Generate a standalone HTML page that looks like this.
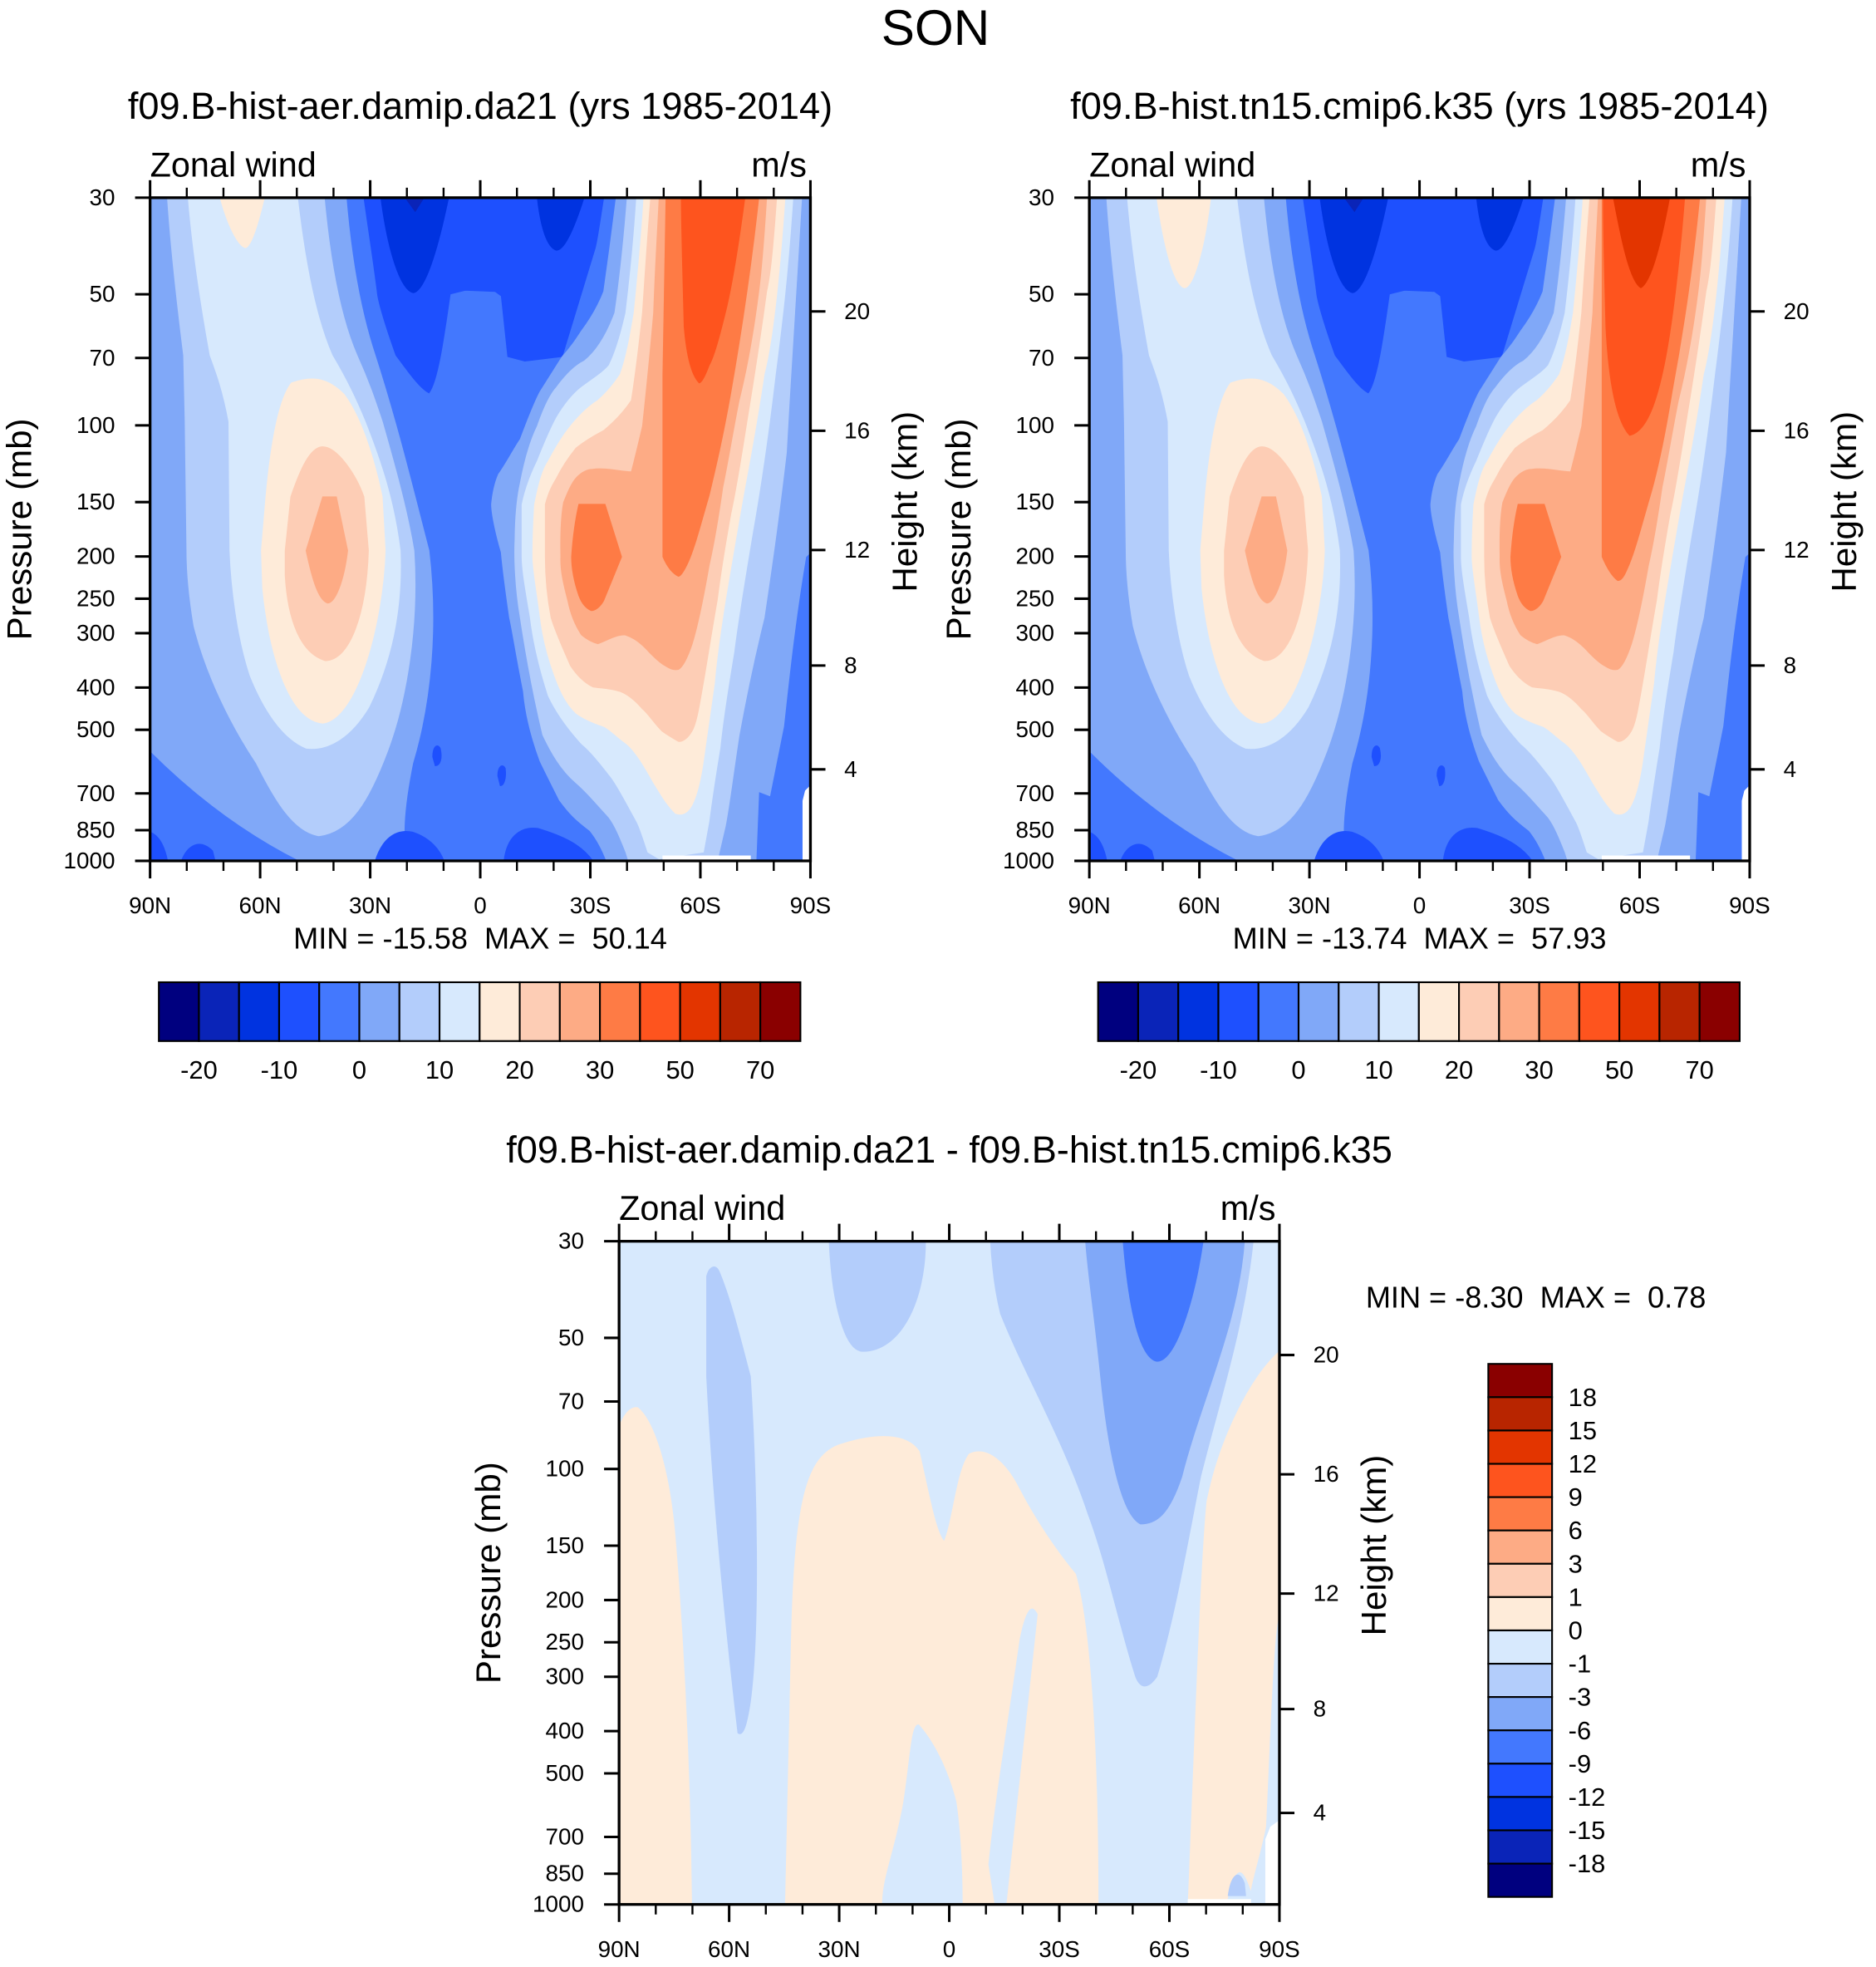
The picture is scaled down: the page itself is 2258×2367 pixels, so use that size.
<!DOCTYPE html>
<html><head><meta charset="utf-8">
<style>
html,body{margin:0;padding:0;background:#fff;}
svg{display:block;}
text{font-family:"Liberation Sans",Arial,sans-serif;fill:#000;}
</style></head>
<body>
<svg id="fig" xmlns="http://www.w3.org/2000/svg" width="2258" height="2367" viewBox="0 0 1500 1572" preserveAspectRatio="none">
<text x="748" y="36" font-size="40" text-anchor="middle">SON</text>
</svg>
<script>
// ---------- data ----------
const pressureTicks = [30,50,70,100,150,200,250,300,400,500,700,850,1000];
const heightTicks = [4,8,12,16,20];
const latMajor = [90,60,30,0,-30,-60,-90];
const latLabels = ["90N","60N","30N","0","30S","60S","90S"];
const latMinor = [80,70,50,40,20,10,-10,-20,-40,-50,-70,-80];
const absLabels = ["-20","-10","0","10","20","30","50","70"];
const absLabelIdx = [1,3,5,7,9,11,13,15];
const absColors = ["#00007f","#0a24b8","#0033e0","#1e50fe","#4378fe","#80a8f8","#b3cdfb","#d7e9fd","#feebd9","#fdcdb5","#fdab85","#fe7b45","#fe541e","#e33500","#b82500","#8a0000"];
const diffLabels = ["18","15","12","9","6","3","1","0","-1","-3","-6","-9","-12","-15","-18"];
const minMax1 = ["-15.58","50.14"];
const minMax2 = ["-13.74","57.93"];
const minMax3 = ["-8.30","0.78"];

const svg = document.getElementById('fig');
const NS = "http://www.w3.org/2000/svg";
function mk(tag, attrs, parent){const e=document.createElementNS(NS,tag);for(const k in attrs)e.setAttribute(k,attrs[k]);(parent||svg).appendChild(e);return e;}

const W=528,H=530;
function yP(p,top){return top+Math.log(p/30)/Math.log(1000/30)*H;}
function xL(lat,left){return left+(90-lat)/180*W;}
function pOfZ(z){z*=1000;return z<11000?1013.25*Math.pow(1-2.2558e-5*z,5.256):226.3*Math.exp(-(z-11000)/6341.6);}

const absLayers = [
 ["#4378fe","M120,158 L648,158 L648,688 L120,688 Z"],
 ["#80a8f8","M120,158 L276.8,158 C282,220 292,260 300,284 C318,340 330,390 343,440 C350,500 345,560 330,610 C322,650 322,670 325,688 L240,688 C200,668 160,640 120,600 Z"],
 ["#b3cdfb","M133.9,158 L259.3,158 C265,220 275,260 285.5,284 C295,305 300,320 305.7,337 C318,380 326,410 331,440 C335,500 325,560 310,600 C295,640 280,665 255,668 C235,665 220,640 205,610 C185,580 165,540 155,500 C150,470 149.4,450 149.4,440 L148,337 L146.8,284 C140,230 136,190 133.9,158 Z"],
 ["#d7e9fd","M150.5,158 L237.9,158 C245,220 255,260 265.6,284 C278,305 285,320 292,337 C305,370 315,400 320,440 C322,490 312,530 295,565 C280,590 262,600 245,598 C225,590 210,565 200,540 C190,510 185,470 183.8,440 L183,337 C178,310 172,295 168,284 C160,240 154,200 150.5,158 Z"],
 ["#feebd9","M233,306 C250,300 262,302 275,315 C290,335 300,370 305.6,397 L308,440 C306,500 285,575 258,578 C230,575 215,520 210,470 L209,440 L212.6,397 C216,360 222,320 233,306 Z"],
 ["#feebd9","TOPBLOB"],
 ["#fdcdb5","M258,357 C270,357 285,380 291,397 L294.6,440 C293,490 280,528 260,528 C240,522 230,495 228,460 L228,440 L232.5,397 C240,375 248,357 258,357 Z"],
 ["#fdab85","M258,397 L269,397 L278,440 C275,465 268,482 262,482 C255,480 250,465 244.7,440 Z"],
 ["#1e50fe","M291,158 L482.7,158 C480,175 478,190 476,198 L449.5,285 L419.6,288.6 L406,285 L400.8,236.5 L396,233 L372,232 L360,235 C355,270 350,305 343,314 C335,310 325,295 316.6,284 C308,260 302,240 301.6,233 C298,205 294,180 291,158 Z"],
 ["#0033e0","M304.5,158 L358.7,158 C350,200 340,232 330.6,234 C320,232 310,200 304.5,158 Z"],
 ["#0a24b8","M324,158 L339,158 L332,169 Z"],
 ["#0033e0","M429.6,158 L467,158 C460,180 452,200 445,200 C437,198 432,180 429.6,158 Z"],
 ["#1e50fe","M403,688 C405,670 415,660 430,662 C450,668 465,675 474,688 Z"],
 ["#1e50fe","M300,688 C305,672 315,662 330,665 C345,670 352,680 355,688 Z"],
 ["#1e50fe","M346,605 C346,596 350,594 352,598 C354,606 352,612 348,612 Z"],
 ["#1e50fe","M398,620 C398,612 402,610 404,614 C405,622 403,628 400,628 Z"],
 ["#1e50fe","M120,688 L120,665 C128,668 132,678 134,688 Z M145,688 C150,675 160,670 170,680 L172,688 Z"],
 ["#80a8f8","M492.7,158 L648,158 L648,441.5 L644.3,445 C635,500 630,550 626.6,580.5 L615.5,636 L606.7,632.6 L604.5,688 L485,688 C480,675 475,668 471.6,663.8 C460,655 455,650 447.3,639.5 C440,625 435,615 431.8,608.3 C425,590 420,570 418.5,552.6 C412,520 410,505 407.4,493.6 C404,470 402,455 400.8,441.5 C396,425 393,410 393,403 C394,392 396,385 398.6,379 C405,370 410,360 416,351 C422,335 428,320 431.8,313 C440,300 445,292 449.5,285 C456,278 460,272 465,264.3 C472,255 478,245 482.7,233 C486,210 490,180 492.7,158 Z"],
 ["#b3cdfb","M501.5,158 L641,158 C636,250 632,300 628.8,361.6 C622,420 616,460 611,493.6 C602,530 596,560 591,587.4 C586,620 583,645 580,660 L573.5,688 L502.6,688 L500.4,681 C496,670 492,660 487,653.4 C475,640 468,632 460.6,625.6 C448,615 440,600 434,587.4 C425,550 420,520 416,493.6 C412,470 411,445 411.8,431 C412,410 414,395 416,386 C420,365 425,350 429.6,340.7 C435,325 440,315 445,309.5 C452,300 460,292 467,288.6 C478,280 486,265 491.6,250 C496,220 499,190 501.5,158 Z"],
 ["#d7e9fd","M509,158 L634,158 C630,220 625,260 620,299 C614,350 608,390 602,424 C596,460 590,495 586.8,521.4 C582,550 578,575 575.7,597.8 C572,620 569,640 566.8,656.9 L562.4,681 L527,686.4 L518,681 C515,672 512,662 509.3,656.9 C500,640 495,630 489.3,622 C480,610 472,600 465,594.4 C452,580 444,568 438.4,556 C430,530 426,510 424,493.6 C420,470 417.4,455 417.4,445 L417.4,403.3 C420,390 425,378 429.6,368.5 C435,355 440,343 445,333.8 C452,322 458,315 465,309.5 C475,302 482,298 487,292 C493,280 497,265 500.4,250 C504,220 507,190 509,158 Z"],
 ["#feebd9","M514.8,158 L627.7,158 C622,240 616,280 611,299 C605,340 600,365 595.6,389.4 C590,420 585,450 580,479.7 C576,505 573,525 571.3,545.7 C568,570 565,590 562.4,608.3 C560,625 557,636 553.5,643 C550,650 545,652 540,650 C532,642 528,634 522.6,625.6 C515,612 508,600 500.4,594 C492,588 488,583 482.7,580.5 C472,577 466,574 460.6,570 C452,562 447,550 443,538.8 C438,525 434,510 432,493.6 C429,470 426,455 426,445 C426,425 427,410 427.4,403.3 C431,385 434,375 438.4,368.5 C444,358 450,348 456,340.7 C463,332 470,325 478,320 C487,312 492,305 496,299 C501,285 504,268 507,250 C510,220 513,190 514.8,158 Z"],
 ["#fdcdb5","M520.3,158 L621,158 C618,200 616,220 613,233 C608,270 604,295 600,320 C595,350 590,385 584.5,410 C580,435 576,460 573.5,479.7 C569,505 566,525 562.4,545.7 C559,565 557,578 553.5,584 C550,590 546,593 542.5,592.6 C538,590 533,587 529,584 C523,578 518,570 513.7,566.6 C508,560 502,555 496,552.7 C488,550 480,550 474,549 C466,545 460,538 456,531.8 C450,518 444,505 440.6,493.6 C437,475 436,460 436,445 L436,403 C439,392 442,387 445,382 C450,372 455,365 460.6,358 C468,352 475,348 482.7,344 C490,338 498,330 504.8,320 C508,300 511,275 513.7,250 C516,215 518,185 520.3,158 Z"],
 ["#fdab85","M527,158 L613,158 C611,190 609,215 606.7,233 C602,270 596,300 591,320 C586,345 582,370 578,389 C575,410 572,430 567,452 C563,475 558,500 553.5,514.5 C550,525 546,533 542.5,535 C538,536 535,534 531.4,531.8 C525,528 520,522 516,518 C510,512 505,509 500,507.5 C493,507 485,512 478,514.5 C472,513 468,510 465,507.5 C460,500 456,490 454,480 C450,465 448,455 448.4,445 C448,425 449,410 450.6,401.5 C454,393 457,386 460.6,382 C465,377 470,375 473.8,375 C480,374 484,375 487,375 C495,376 500,377 504.8,377 C508,365 511,352 513.7,340.7 C517,310 520,280 522.6,250 C524,210 526,180 527,158 Z"],
 ["#fe7b45","M462.8,403 L483.8,403 L497,445 L482.7,480 C480,485 476,488 472.7,488 C468,486 465,482 462.8,476 C459,465 457,455 457,445 C458,430 460,415 462.8,403 Z"],
 ["#fe7b45","REDWIDE"],
 ["#fe541e","RED"],
 ["#e33500","RED2"],
 ["#ffffff","M642,688 L642,640 L644,632 L648,628 L648,688 Z M530,688 L530,684 L600,684 L600,688 Z"]
];
const p1 = {
 TOPBLOB:"M176,158 L211.4,158 C205,185 200,198 196,198 C190,196 182,180 176,158 Z",
 REDWIDE:"M532.5,158 L606.7,158 C600,220 592,270 584.5,313 C578,350 572,375 567,396 C560,420 555,440 549,452 C546,458 544,460.6 542.5,460.6 C537,458 533,452 530,445 L530,300 C531,250 532,200 532.5,158 Z",
 RED:"M544.7,158 L595.6,158 C590,200 585,230 580,250 C575,270 571,285 567,292 C564,300 561,306 559,306 C553,300 549,285 547,261 C546,220 545,190 544.7,158 Z",
 RED2:""
};
const p2 = {
 TOPBLOB:"M174,158 L217,158 C212,200 203,230 196,230 C188,228 180,200 174,158 Z",
 REDWIDE:"M530,158 L608,158 C602,220 594,270 586,313 C580,350 574,378 568,398 C561,422 556,442 550,455 C547,462 545,464 542.5,464 C537,460 533,452 530,445 L530,300 C530,250 530,200 530,158 Z",
 RED:"M531,158 L596,158 C592,210 586,260 580,290 C574,320 566,345 552,348 C540,335 535,300 533,261 C532,220 531,190 531,158 Z",
 RED2:"M539,158 L584,158 C578,190 570,225 561,230 C552,225 545,190 539,158 Z"
};

function drawPanel(dx, dy, layers, subs, nameP){
  const g = mk('g',{transform:`translate(${dx},${dy})`});
  
  
  const cid = 'clip-'+nameP;
  const cp = mk('clipPath',{id:cid}, g); mk('rect',{x:120,y:158,width:W,height:H}, cp);
  const inner = mk('g',{'clip-path':`url(#${cid})`}, g);
  layers.forEach((L,i)=>{
    let d = L[1]; if(subs && subs[d]!==undefined) d = subs[d];
    if(!d) return;
    const p = mk('path',{d:d, fill:L[0], stroke:L[0], 'stroke-width':0.6}, inner);
    
    
  });
}

function drawAxes(left, top, nameP, title, mm, mmPos){
  const g = mk('g',{});
  
  
  const R=left+W, B=top+H;
  mk('rect',{x:left,y:top,width:W,height:H,fill:'none',stroke:'#000','stroke-width':2.2},g);
  pressureTicks.forEach(p=>{
    const y=yP(p,top);
    mk('line',{x1:left-12,y1:y,x2:left,y2:y,stroke:'#000','stroke-width':2},g);
    const t=mk('text',{x:left-28,y:y+6,'font-size':18.5,'text-anchor':'end'},g); t.textContent=p;
    
    
  });
  heightTicks.forEach(z=>{
    const y=yP(pOfZ(z),top);
    mk('line',{x1:R,y1:y,x2:R+12,y2:y,stroke:'#000','stroke-width':2},g);
    const t=mk('text',{x:R+27,y:y+6,'font-size':18.5},g); t.textContent=z;
    
    
  });
  latMajor.forEach((lat,i)=>{
    const x=xL(lat,left);
    mk('line',{x1:x,y1:top-14,x2:x,y2:top,stroke:'#000','stroke-width':2},g);
    mk('line',{x1:x,y1:B,x2:x,y2:B+14,stroke:'#000','stroke-width':2},g);
    const t=mk('text',{x:x,y:B+42,'font-size':18.5,'text-anchor':'middle'},g); t.textContent=latLabels[i];
    
    
  });
  latMinor.forEach(lat=>{
    const x=xL(lat,left);
    mk('line',{x1:x,y1:top-8,x2:x,y2:top,stroke:'#000','stroke-width':1.6},g);
    mk('line',{x1:x,y1:B,x2:x,y2:B+8,stroke:'#000','stroke-width':1.6},g);
  });
  let t=mk('text',{x:left,y:top-17,'font-size':27.5},g); t.textContent='Zonal wind';
   
  t=mk('text',{x:R-3,y:top-17,'font-size':27.5,'text-anchor':'end'},g); t.textContent='m/s';
   
  t=mk('text',{x:left+W/2,y:top-63,'font-size':30,'text-anchor':'middle'},g); t.textContent=title;
   
  t=mk('text',{x:0,y:0,'font-size':28,'text-anchor':'middle',transform:`translate(${left-95},${top+H/2}) rotate(-90)`},g); t.textContent='Pressure (mb)';
   
  t=mk('text',{x:0,y:0,'font-size':28,'text-anchor':'middle',transform:`translate(${R+85},${top+H/2-22}) rotate(-90)`},g); t.textContent='Height (km)';
   
  t=mk('text',{x:mmPos[0],y:mmPos[1],'font-size':24,'text-anchor':mmPos[2], style:'white-space:pre'},g);
  t.textContent=`MIN = ${mm[0]}  MAX =  ${mm[1]}`;
   
}

function hColorbar(x0,y0,nameP){
  const g=mk('g',{});  
  const bw=(640-127)/absColors.length;
  absColors.forEach((c,i)=>{
    const r=mk('rect',{x:x0+i*bw,y:y0,width:bw,height:47,fill:c,stroke:'#000','stroke-width':1.4},g);
     
  });
  absLabels.forEach((l,i)=>{
    const t=mk('text',{x:x0+absLabelIdx[i]*bw,y:y0+77,'font-size':20.5,'text-anchor':'middle'},g); t.textContent=l;
     
  });
}

drawPanel(0,0,absLayers,p1,'panel1');
drawAxes(120,158,'panel1','f09.B-hist-aer.damip.da21 (yrs 1985-2014)',minMax1,[384,758,'middle']);
hColorbar(127,785,'panel1');
drawPanel(751,0,absLayers,p2,'panel2');
drawAxes(871,158,'panel2','f09.B-hist.tn15.cmip6.k35 (yrs 1985-2014)',minMax2,[1135,758,'middle']);
hColorbar(878,785,'panel2');

// ---------- difference panel ----------
const diffLayers = [
 ["#d7e9fd","M495,992 L1023,992 L1023,1522 L495,1522 Z"],
 ["#feebd9","M495,1140 C500,1128 505,1124 510,1125 C522,1135 535,1170 540,1230 C548,1330 552,1430 553,1522 L495,1522 Z"],
 ["#feebd9","M628,1522 L633,1300 C636,1200 645,1165 670,1155 C700,1145 725,1145 735,1160 C742,1190 748,1225 755,1232 C762,1215 765,1175 775,1162 C790,1155 805,1170 815,1190 C828,1215 845,1240 860,1258 C872,1300 878,1400 878,1522 L805,1522 C810,1470 820,1380 830,1290 C825,1280 820,1285 815,1310 C805,1380 795,1440 790,1490 L795,1522 L770,1522 C770,1490 768,1460 765,1440 C760,1420 750,1395 735,1378 C728,1376 728,1400 722,1440 C715,1480 705,1500 705,1522 Z"],
 ["#feebd9","M950,1522 C955,1400 960,1250 965,1200 C975,1150 1000,1100 1023,1080 L1023,1290 C1018,1300 1015,1400 1012,1460 C1008,1480 1003,1495 1000,1510 C995,1495 990,1490 985,1505 L980,1522 Z"],
 ["#b3cdfb","M565,1020 C567,1012 572,1010 575,1016 C585,1040 592,1070 600,1100 C605,1180 608,1300 600,1360 C597,1380 594,1388 590,1385 C580,1300 570,1200 565,1100 Z"],
 ["#b3cdfb","M663,992 L740,992 C740,1040 720,1080 690,1080 C675,1080 665,1040 663,992 Z"],
 ["#b3cdfb","M792,992 L1002,992 C995,1060 975,1120 960,1180 C950,1230 940,1290 925,1340 C918,1350 912,1350 908,1340 C895,1300 885,1250 870,1210 C850,1150 820,1100 800,1050 C795,1030 793,1010 792,992 Z"],
 ["#80a8f8","M868,992 L995,992 C990,1060 960,1120 945,1180 C935,1210 925,1218 912,1218 C895,1210 885,1150 880,1100 C875,1050 870,1020 868,992 Z"],
 ["#4378fe","M898,992 L962,992 C955,1040 940,1088 925,1088 C910,1085 902,1040 898,992 Z"],
 ["#b3cdfb","M982,1515 C984,1500 990,1492 995,1505 L996,1515 Z"],
 ["#ffffff","M1012,1522 L1012,1470 L1016,1460 L1023,1455 L1023,1522 Z M950,1522 L950,1518 L1000,1518 L1000,1522 Z"]
];
drawPanel(375,834,diffLayers.map(L=>[L[0],L[1].replace(/(-?\d+(\.\d+)?),(-?\d+(\.\d+)?)/g,(m,a,b,c,d)=>(+a-375)+','+(+c-834))]),null,'panel3');
drawAxes(495,992,'panel3','f09.B-hist-aer.damip.da21 - f09.B-hist.tn15.cmip6.k35',minMax3,[1092,1045,'start']);

(function(){
  const g=mk('g',{});  
  const x0=1190,y0=1090,bh=(1516-1090)/16;
  const cols=absColors.slice().reverse();
  cols.forEach((c,i)=>{
    const r=mk('rect',{x:x0,y:y0+i*bh,width:51,height:bh,fill:c,stroke:'#000','stroke-width':1.4},g);
     
  });
  diffLabels.forEach((l,i)=>{
    const t=mk('text',{x:x0+64,y:y0+(i+1)*bh+7,'font-size':20.5},g); t.textContent=l;
     
  });
})();
</script>
</body></html>
